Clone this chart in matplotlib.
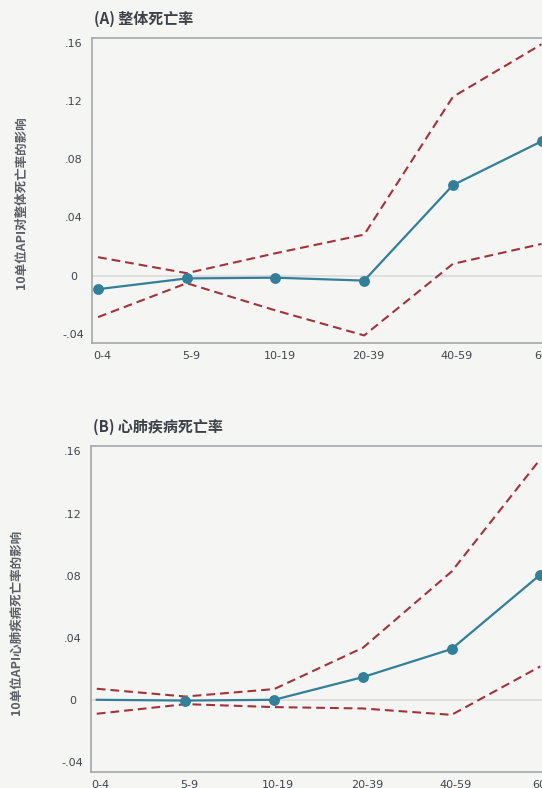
import matplotlib
matplotlib.use('Agg')
import matplotlib.pyplot as plt
from matplotlib.transforms import ScaledTranslation

# age groups and effects (per 10 units of API)
age_groups = ['0-4', '5-9', '10-19', '20-39', '40-59', '60+']

all_cause = [-0.0094, -0.0020, -0.0015, -0.0035, 0.0621, 0.0923]
all_cause_hi = [0.0126, 0.0016, 0.0153, 0.0281, 0.1228, 0.1590]
all_cause_lo = [-0.0286, -0.0053, -0.0240, -0.0412, 0.0080, 0.0217]

cardio = [0.0, -0.0005, 0.0, 0.0146, 0.0327, 0.0806]
cardio_hi = [0.0071, 0.0021, 0.0069, 0.0335, 0.0826, 0.1550]
cardio_lo = [-0.0090, -0.0028, -0.0047, -0.0056, -0.0097, 0.0215]

y_ticks = [-0.04, 0, 0.04, 0.08, 0.12, 0.16]
y_tick_labels = ['-.04', '0', '.04', '.08', '.12', '.16']

BG = '#f5f5f3'
TEAL = '#327f9a'
RED = '#a3323a'
SPINE = '#a4a8ac'
TEXT = '#41464d'
CJK = ['Noto Sans CJK SC', 'DejaVu Sans']

fig = plt.figure(figsize=(5.42, 7.88), dpi=100, facecolor=BG)

W, H = 542.0, 788.0
unit = 88.7  # px per category step
x_left = -0.065
x_right = 5.5


def make_panel(left_px, top_px, bottom_px, title, ylabel, ylabel_xy,
               est, hi, lo, mark_first):
    width_px = (x_right - x_left) * unit
    ax = fig.add_axes([left_px / W, 1 - bottom_px / H,
                       width_px / W, (bottom_px - top_px) / H])
    ax.set_facecolor(BG)
    x = list(range(len(age_groups)))

    ax.axhline(0, color='#dedede', lw=1.5, zorder=1)
    ax.plot(x, hi, color=RED, lw=1.5, dashes=(4.2, 2.4), zorder=2)
    ax.plot(x, lo, color=RED, lw=1.5, dashes=(4.2, 2.4), zorder=2)
    marks = list(range(len(x))) if mark_first else list(range(1, len(x)))
    ax.plot(x, est, color=TEAL, lw=1.6, marker='o', markersize=6.8,
            markevery=marks, zorder=3)

    ax.set_xlim(x_left, x_right)
    ax.set_ylim(-0.0462, 0.1635)
    ax.set_xticks(x)
    ax.set_xticklabels(age_groups)
    ax.set_yticks(y_ticks)
    ax.set_yticklabels(y_tick_labels)
    ax.tick_params(axis='both', length=0, labelsize=8, labelcolor=TEXT)
    ax.tick_params(axis='y', pad=13.5)
    ax.tick_params(axis='x', pad=6)
    for lab in ax.get_yticklabels():
        lab.set_horizontalalignment('center')
    shift = ScaledTranslation(4 / 100, 0, fig.dpi_scale_trans)
    for lab in ax.get_xticklabels():
        lab.set_transform(lab.get_transform() + shift)

    for s in ['left', 'top', 'bottom']:
        ax.spines[s].set_color(SPINE)
        ax.spines[s].set_linewidth(1.2)
    ax.spines['right'].set_visible(False)

    fig.text((left_px + 2) / W, 1 - (top_px - 19) / H, title,
             family=CJK, fontsize=10.8, fontweight='bold', color='#3c4148',
             ha='left', va='center')
    fig.text(ylabel_xy[0] / W, 1 - ylabel_xy[1] / H, ylabel,
             family=CJK, fontsize=9, fontweight='bold', color='#5a5f66',
             rotation=90, ha='center', va='center')
    return ax


make_panel(92.3, 37.7, 342.7, '(A) 整体死亡率', '10单位API对整体死亡率的影响',
           (21, 203), all_cause, all_cause_hi, all_cause_lo, True)
make_panel(91.0, 446.0, 771.5, '(B) 心肺疾病死亡率', '10单位API心肺疾病死亡率的影响',
           (16, 622), cardio, cardio_hi, cardio_lo, False)

fig.savefig('out.png', dpi=100, facecolor=BG)
